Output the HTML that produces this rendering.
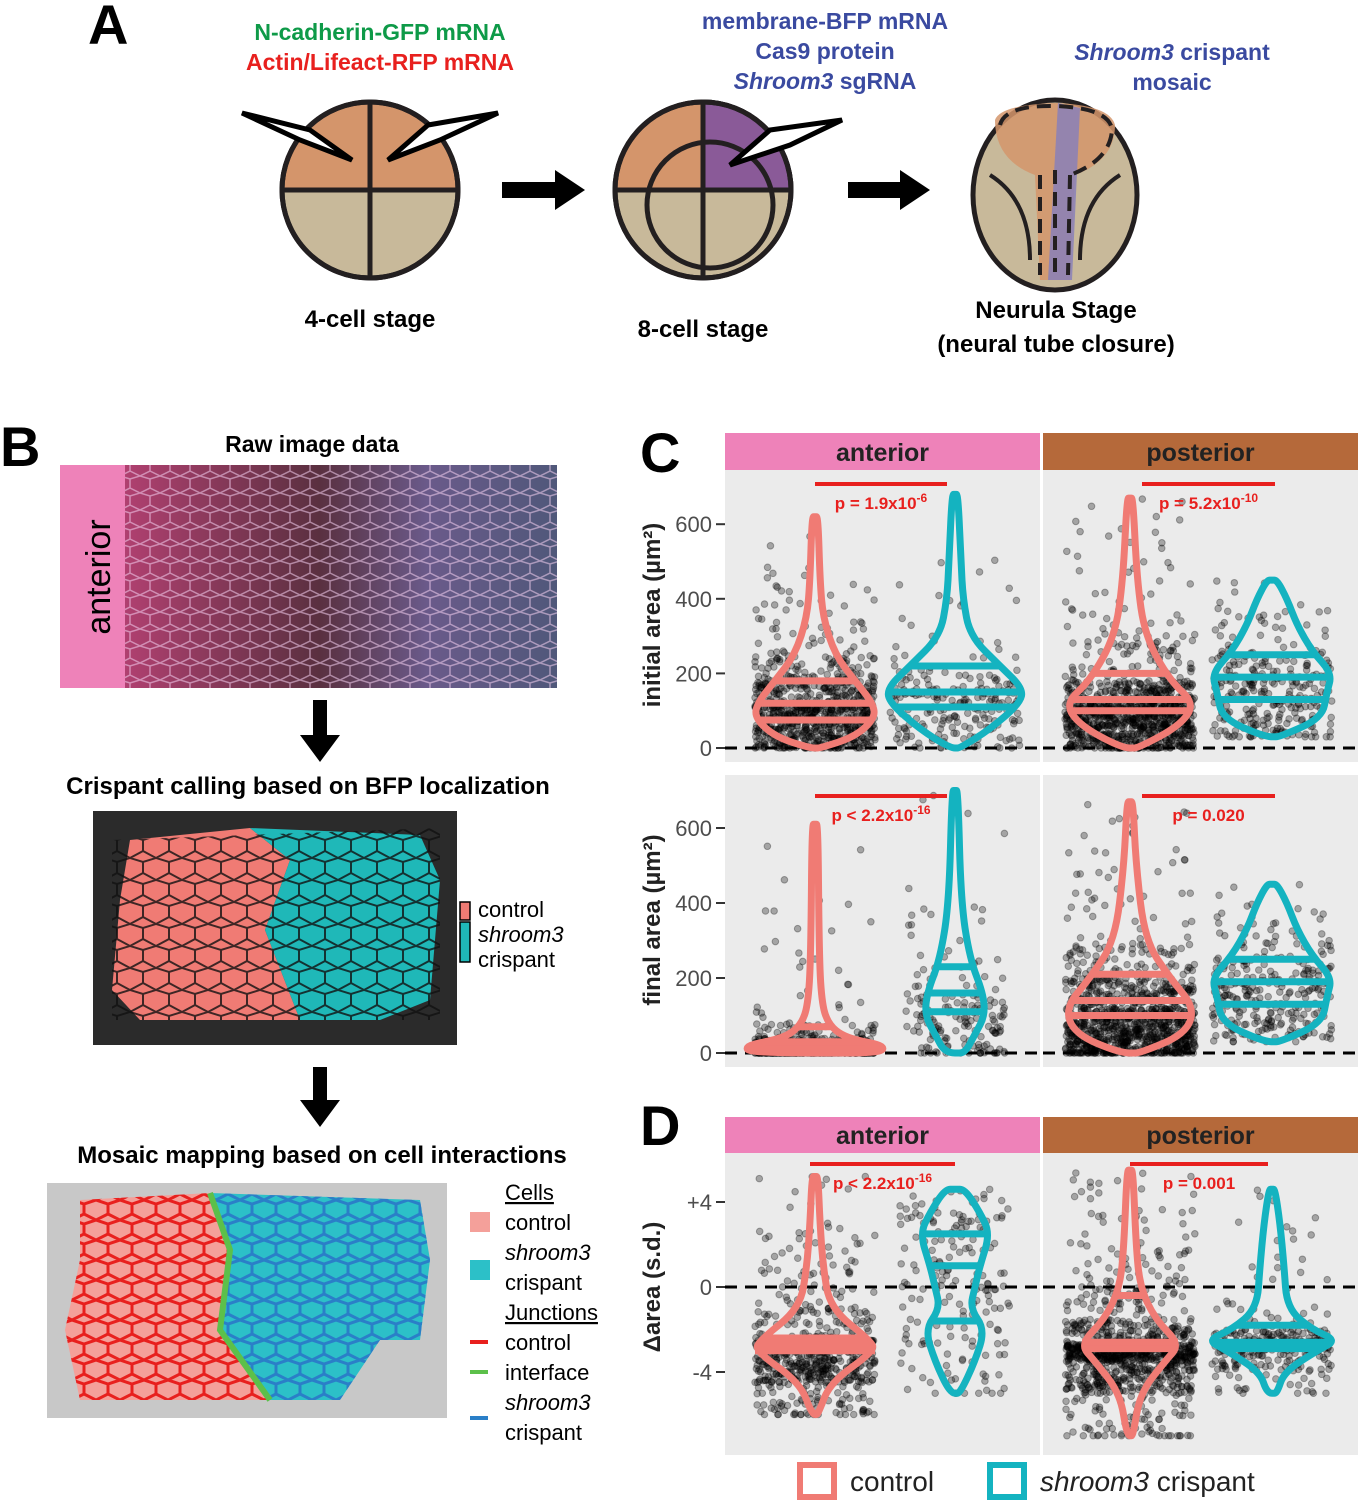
<!DOCTYPE html>
<html><head><meta charset="utf-8"><style>
body{margin:0;background:#fff}
svg{display:block;font-family:"Liberation Sans",Arial,sans-serif}
</style></head><body>
<svg id="s" width="1360" height="1500" viewBox="0 0 1360 1500" xmlns="http://www.w3.org/2000/svg">
<defs>
<pattern id="cellsB" width="26" height="22" patternUnits="userSpaceOnUse">
<path d="M0 0 L13 4 L26 0 M13 4 L13 15 L0 22 M13 15 L26 22" stroke="#111" stroke-width="2" fill="none"/>
</pattern>
<pattern id="cellsR" width="24" height="20" patternUnits="userSpaceOnUse">
<path d="M0 0 L12 4 L24 0 M12 4 L12 14 L0 20 M12 14 L24 20" stroke="#e8201e" stroke-width="3" fill="none"/>
</pattern>
<pattern id="cellsT" width="24" height="20" patternUnits="userSpaceOnUse">
<path d="M0 0 L12 4 L24 0 M12 4 L12 14 L0 20 M12 14 L24 20" stroke="#2a7fc8" stroke-width="3" fill="none"/>
</pattern>
<pattern id="cellsW" width="20" height="17" patternUnits="userSpaceOnUse">
<path d="M0 0 L10 3 L20 0 M10 3 L10 12 L0 17 M10 12 L20 17" stroke="#f4d0f0" stroke-opacity="0.55" stroke-width="1.5" fill="none"/>
</pattern>
<linearGradient id="raw" x1="0" x2="1" y1="0" y2="0">
<stop offset="0" stop-color="#b04070"/><stop offset="0.45" stop-color="#5a3040"/><stop offset="0.7" stop-color="#6a5a8a"/><stop offset="1" stop-color="#50587a"/>
</linearGradient>
</defs>

<text x="88" y="44" font-size="56" font-weight="bold">A</text>
<text x="380" y="40" font-size="23" font-weight="bold" fill="#0e9a48" text-anchor="middle">N-cadherin-GFP mRNA</text>
<text x="380" y="70" font-size="23" font-weight="bold" fill="#e8201e" text-anchor="middle">Actin/Lifeact-RFP mRNA</text>
<g stroke="#231f20" stroke-width="5">
<path d="M282 190 A88 88 0 0 1 458 190 Z" fill="#d4956b"/>
<path d="M282 190 A88 88 0 0 0 458 190 Z" fill="#c8b99a"/>
<circle cx="370" cy="190" r="88" fill="none"/>
<line x1="370" y1="102" x2="370" y2="278"/>
</g>
<g stroke="#000" stroke-width="5" fill="#fff">
<polygon points="242,113 310,130 352,160 300,140"/>
<polygon points="498,113 428,125 388,160 440,140"/>
</g>
<text x="370" y="327" font-size="24" font-weight="bold" text-anchor="middle">4-cell stage</text>
<polygon points="502,182 555,182 555,170 585,190 555,210 555,198 502,198" fill="#000"/>
<text x="825" y="29" font-size="23" font-weight="bold" fill="#3a4aa0" text-anchor="middle">membrane-BFP mRNA</text>
<text x="825" y="59" font-size="23" font-weight="bold" fill="#3a4aa0" text-anchor="middle">Cas9 protein</text>
<text x="825" y="89" font-size="23" font-weight="bold" fill="#3a4aa0" text-anchor="middle"><tspan font-style="italic">Shroom3</tspan> sgRNA</text>
<g stroke="#231f20" stroke-width="5">
<path d="M615 190 A88 88 0 0 1 791 190 Z" fill="#d4956b"/>
<path d="M703 102 A88 88 0 0 1 791 190 L703 190 Z" fill="#8a5a98"/>
<path d="M615 190 A88 88 0 0 0 791 190 Z" fill="#c8b99a"/>
<circle cx="703" cy="190" r="88" fill="none"/>
<circle cx="710" cy="205" r="63" fill="none"/>
<line x1="703" y1="102" x2="703" y2="278"/>
<line x1="615" y1="190" x2="791" y2="190"/>
</g>
<polygon points="842,120 770,130 730,165 790,145" fill="#fff" stroke="#000" stroke-width="5"/>
<text x="703" y="337" font-size="24" font-weight="bold" text-anchor="middle">8-cell stage</text>
<polygon points="848,182 900,182 900,170 930,190 900,210 900,198 848,198" fill="#000"/>
<text x="1172" y="60" font-size="23" font-weight="bold" fill="#3a4aa0" text-anchor="middle"><tspan font-style="italic">Shroom3</tspan> crispant</text>
<text x="1172" y="90" font-size="23" font-weight="bold" fill="#3a4aa0" text-anchor="middle">mosaic</text>
<ellipse cx="1055" cy="195" rx="82" ry="95" fill="#c8b99a" stroke="#231f20" stroke-width="5"/>
<path d="M995 120 Q1000 105 1055 103 Q1110 105 1115 125 Q1115 160 1075 175 L1070 280 L1040 280 L1035 175 Q995 160 995 120 Z" fill="#d4956b" opacity="0.85"/>
<path d="M1058 103 L1080 108 L1072 280 L1048 280 Z" fill="#8a80b8" opacity="0.85"/>
<g stroke="#231f20" stroke-width="4" fill="none" stroke-dasharray="14,8">
<path d="M1000 125 Q1005 105 1055 106 Q1110 108 1112 130 Q1110 160 1070 175"/>
<path d="M1040 175 L1040 275 M1055 170 L1055 280 M1070 175 L1068 275"/>
</g>
<path d="M990 175 Q1030 200 1030 260 M1120 175 Q1080 200 1080 260" stroke="#231f20" stroke-width="4" fill="none"/>
<text x="1056" y="318" font-size="24" font-weight="bold" text-anchor="middle">Neurula Stage</text>
<text x="1056" y="352" font-size="24" font-weight="bold" text-anchor="middle">(neural tube closure)</text>

<text x="0" y="466" font-size="56" font-weight="bold">B</text>
<text x="312" y="452" font-size="23" font-weight="bold" text-anchor="middle">Raw image data</text>
<rect x="125" y="465" width="432" height="223" fill="url(#raw)"/>
<rect x="125" y="465" width="432" height="223" fill="url(#cellsW)"/>
<rect x="60" y="465" width="65" height="223" fill="#ee82b9"/>
<text transform="translate(110,577) rotate(-90)" font-size="34" text-anchor="middle">anterior</text>
<polygon points="313,700 327,700 327,735 340,735 320,762 300,735 313,735" fill="#000"/>
<text x="308" y="794" font-size="24" font-weight="bold" text-anchor="middle">Crispant calling based on BFP localization</text>
<rect x="93" y="811" width="364" height="234" fill="#2b2b2b"/>
<path d="M130 840 L250 828 L290 860 L265 930 L300 1020 L140 1020 L112 990 L120 900 Z" fill="#f07b74"/>
<path d="M250 828 L420 835 L440 880 L430 1000 L380 1020 L300 1020 L265 930 L290 860 Z" fill="#1fb8b8"/>
<path d="M112 840 L440 828 L440 1020 L112 1020 Z" fill="url(#cellsB)" opacity="0.8"/>
<rect x="460" y="902" width="10" height="18" fill="#f07b74" stroke="#000" stroke-width="1.5"/>
<rect x="460" y="922" width="10" height="40" fill="#1fb8b8" stroke="#000" stroke-width="1.5"/>
<text x="478" y="917" font-size="22">control</text>
<text x="478" y="942" font-size="22" font-style="italic">shroom3</text>
<text x="478" y="967" font-size="22">crispant</text>
<polygon points="313,1067 327,1067 327,1100 340,1100 320,1127 300,1100 313,1100" fill="#000"/>
<text x="322" y="1163" font-size="24" font-weight="bold" text-anchor="middle">Mosaic mapping based on cell interactions</text>
<rect x="47" y="1183" width="400" height="235" fill="#c8c8c8"/>
<path d="M80 1200 L210 1193 L230 1250 L220 1330 L270 1400 L80 1400 L65 1330 L80 1260 Z" fill="#f4a09a"/>
<path d="M80 1200 L210 1193 L230 1250 L220 1330 L270 1400 L80 1400 L65 1330 L80 1260 Z" fill="url(#cellsR)"/>
<path d="M210 1193 L420 1200 L430 1260 L420 1340 L380 1340 L340 1400 L270 1400 L220 1330 L230 1250 Z" fill="#2cc0c8"/>
<path d="M210 1193 L420 1200 L430 1260 L420 1340 L380 1340 L340 1400 L270 1400 L220 1330 L230 1250 Z" fill="url(#cellsT)"/>
<path d="M210 1193 L230 1250 L220 1330 L270 1400" stroke="#5cc04a" stroke-width="6" fill="none"/>
<text x="505" y="1200" font-size="22" text-decoration="underline">Cells</text>
<rect x="470" y="1212" width="20" height="20" fill="#f4a09a"/>
<text x="505" y="1230" font-size="22">control</text>
<text x="505" y="1260" font-size="22" font-style="italic">shroom3</text>
<rect x="470" y="1260" width="20" height="20" fill="#2cc0c8"/>
<text x="505" y="1290" font-size="22">crispant</text>
<text x="505" y="1320" font-size="22" text-decoration="underline">Junctions</text>
<rect x="470" y="1340" width="18" height="4" fill="#e8201e"/>
<text x="505" y="1350" font-size="22">control</text>
<rect x="470" y="1370" width="18" height="4" fill="#5cc04a"/>
<text x="505" y="1380" font-size="22">interface</text>
<text x="505" y="1410" font-size="22" font-style="italic">shroom3</text>
<rect x="470" y="1416" width="18" height="4" fill="#2a7fc8"/>
<text x="505" y="1440" font-size="22">crispant</text>

<text x="640" y="472" font-size="56" font-weight="bold">C</text>
<text x="640" y="1145" font-size="56" font-weight="bold">D</text>
<g id="plots"></g>
<rect x="800" y="1465" width="34" height="32" fill="none" stroke="#f07b74" stroke-width="6"/>
<text x="850" y="1491" font-size="28" fill="#222">control</text>
<rect x="990" y="1465" width="34" height="32" fill="none" stroke="#14b3c0" stroke-width="6"/>
<text x="1040" y="1491" font-size="28" fill="#222"><tspan font-style="italic">shroom3</tspan> crispant</text>
</svg>
<script>
var NS="http://www.w3.org/2000/svg",G=document.getElementById("plots");
function el(t,a,txt){var e=document.createElementNS(NS,t);for(var k in a)e.setAttribute(k,a[k]);if(txt)e.textContent=txt;G.appendChild(e);return e;}
var seed=7;function rnd(){seed=(seed*16807)%2147483647;return seed/2147483647;}
var S='#f07b74',T='#14b3c0';
function strip(x,y,w,h,c,t){el('rect',{x:x,y:y,width:w,height:h,fill:c});el('text',{x:x+w/2,y:y+h-9,'font-size':25,'font-weight':'bold','text-anchor':'middle',fill:'#222'},t);}
function panel(x,y,w,h){el('rect',{x:x,y:y,width:w,height:h,fill:'#ebebeb'});}
function smooth(pts){var d='M'+pts[0][0]+' '+pts[0][1];for(var i=1;i<pts.length-1;i++){var mx=(pts[i][0]+pts[i+1][0])/2,my=(pts[i][1]+pts[i+1][1])/2;d+=' Q'+pts[i][0]+' '+pts[i][1]+' '+mx+' '+my;}d+=' L'+pts[pts.length-1][0]+' '+pts[pts.length-1][1];return d;}
function violin(cx,data,ymap,col,lines,npts,spread){
 var tot=0;data.forEach(function(d){tot+=d[1]});
 for(var i=0;i<npts;i++){var r=rnd()*tot,acc=0,idx=0;for(var j=0;j<data.length;j++){acc+=data[j][1];if(acc>=r){idx=j;break;}}
  var v0=data[Math.max(0,idx-1)][0],v1=data[idx][0];var v=v0+(v1-v0)*rnd();el('circle',{cx:cx+(rnd()-0.5)*2*spread,cy:ymap(v),r:3.3,fill:'#000','fill-opacity':0.3,stroke:'#000','stroke-opacity':0.3});}
 var L=[],R=[];data.forEach(function(d){var y=ymap(d[0]);L.push([cx-d[1],y]);R.unshift([cx+d[1],y]);});
 var b=data[0],tp=data[data.length-1];
 var pts=[[cx,ymap(b[0])]].concat(L).concat([[cx,ymap(tp[0])]]).concat(R).concat([[cx,ymap(b[0])]]);
 el('path',{d:smooth(pts)+' Z',fill:'none',stroke:col,'stroke-width':7,'stroke-linejoin':'round'});
 lines.forEach(function(v){var y=ymap(v);var hw=0;for(var k=1;k<data.length;k++){if((data[k][0]-v)*(data[k-1][0]-v)<=0){var t=(v-data[k-1][0])/(data[k][0]-data[k-1][0]);hw=data[k-1][1]+t*(data[k][1]-data[k-1][1]);break;}}
  el('line',{x1:cx-hw,x2:cx+hw,y1:y,y2:y,stroke:col,'stroke-width':7});});
}
function pval(x1,x2,y,txt,sup){el('line',{x1:x1,x2:x2,y1:y,y2:y,stroke:'#e8201e','stroke-width':4});var t=el('text',{x:(x1+x2)/2,y:y+25,'font-size':17,'font-weight':'bold',fill:'#e8201e','text-anchor':'middle'},txt);if(sup){var s=document.createElementNS(NS,'tspan');s.setAttribute('dy','-7');s.setAttribute('font-size','12');s.textContent=sup;t.appendChild(s);}}
function yaxis(ticks,ymap,lab,labY){ticks.forEach(function(t){var y=ymap(t[0]);el('text',{x:712,y:y+8,'font-size':22,fill:'#4d4d4d','text-anchor':'end'},t[1]);el('line',{x1:716,x2:725,y1:y,y2:y,stroke:'#333','stroke-width':2});});
 el('text',{transform:'translate(660,'+labY+') rotate(-90)','font-size':24,'font-weight':'bold','text-anchor':'middle',fill:'#222'},lab);}
function dash(y){[[725,1040],[1043,1358]].forEach(function(p){el('line',{x1:p[0],x2:p[1],y1:y,y2:y,stroke:'#000','stroke-width':3,'stroke-dasharray':'12,8'});});}
strip(725,433,315,37,'#ee82b9','anterior');strip(1043,433,315,37,'#b5693a','posterior');
panel(725,470,315,292);panel(1043,470,315,292);panel(725,775,315,292);panel(1043,775,315,292);
var y1=function(v){return 748-v*0.373},y2=function(v){return 1053-v*0.375};
yaxis([[0,'0'],[200,'200'],[400,'400'],[600,'600']],y1,'initial area (µm²)',615);
yaxis([[0,'0'],[200,'200'],[400,'400'],[600,'600']],y2,'final area (µm²)',920);
dash(748);dash(1053);
violin(815,[[0,5],[30,40],[80,60],[120,58],[180,40],[250,20],[350,8],[450,5],[620,3]],y1,S,[75,120,180],800,60);
violin(955,[[0,5],[50,35],[120,65],[160,68],[220,45],[300,15],[400,8],[500,6],[680,3]],y1,T,[110,150,220],220,65);
violin(1130,[[0,8],[60,50],[120,65],[180,40],[300,15],[450,7],[670,3]],y1,S,[100,130,200],1000,65);
violin(1272,[[30,8],[80,50],[150,55],[200,60],[260,40],[330,25],[400,15],[450,5]],y1,T,[130,190,250],280,60);
violin(815,[[0,65],[20,70],[40,30],[80,12],[150,6],[300,4],[610,3]],y2,S,[15,30,70],600,60);
violin(955,[[0,10],[50,20],[100,30],[160,28],[250,15],[400,6],[700,3]],y2,T,[110,160,230],160,50);
violin(1130,[[0,10],[50,55],[120,65],[200,40],[300,15],[500,6],[670,3]],y2,S,[100,140,210],1000,65);
violin(1272,[[30,8],[80,50],[150,55],[200,60],[260,40],[330,25],[400,15],[450,5]],y2,T,[130,190,250],280,60);
pval(815,947,484,'p = 1.9x10','-6');pval(1142,1275,484,'p = 5.2x10','-10');
pval(815,947,796,'p < 2.2x10','-16');pval(1142,1275,796,'p = 0.020');
strip(725,1117,315,36,'#ee82b9','anterior');strip(1043,1117,315,36,'#b5693a','posterior');
panel(725,1153,315,302);panel(1043,1153,315,302);
var y3=function(v){return 1287-v*21.25};
yaxis([[4,'+4'],[0,'0'],[-4,'-4']],y3,'Δarea (s.d.)',1287);
dash(1287);
violin(815,[[-6,3],[-4.5,15],[-3,60],[-2.5,55],[-1,15],[1,8],[3,5],[5.2,3]],y3,S,[-3,-2.7,-2.4],700,60);
violin(955,[[-5,5],[-3.5,20],[-2,30],[-1,15],[0,20],[1,25],[2.5,35],[3.5,25],[4.6,10]],y3,T,[-1.6,1,2.5],180,55);
violin(1130,[[-7,3],[-5,10],[-3.5,35],[-2.7,50],[-1.5,25],[0,10],[2,6],[5.5,3]],y3,S,[-2.9,-2.6,-0.4],1000,65);
violin(1272,[[-5,5],[-4,12],[-3,45],[-2.5,65],[-2,40],[-1,15],[1,12],[3,8],[4.6,3]],y3,T,[-2.9,-2.6,-1.8],280,60);
pval(810,955,1164,'p < 2.2x10','-16');pval(1130,1268,1164,'p = 0.001');
</script>
</body></html>
